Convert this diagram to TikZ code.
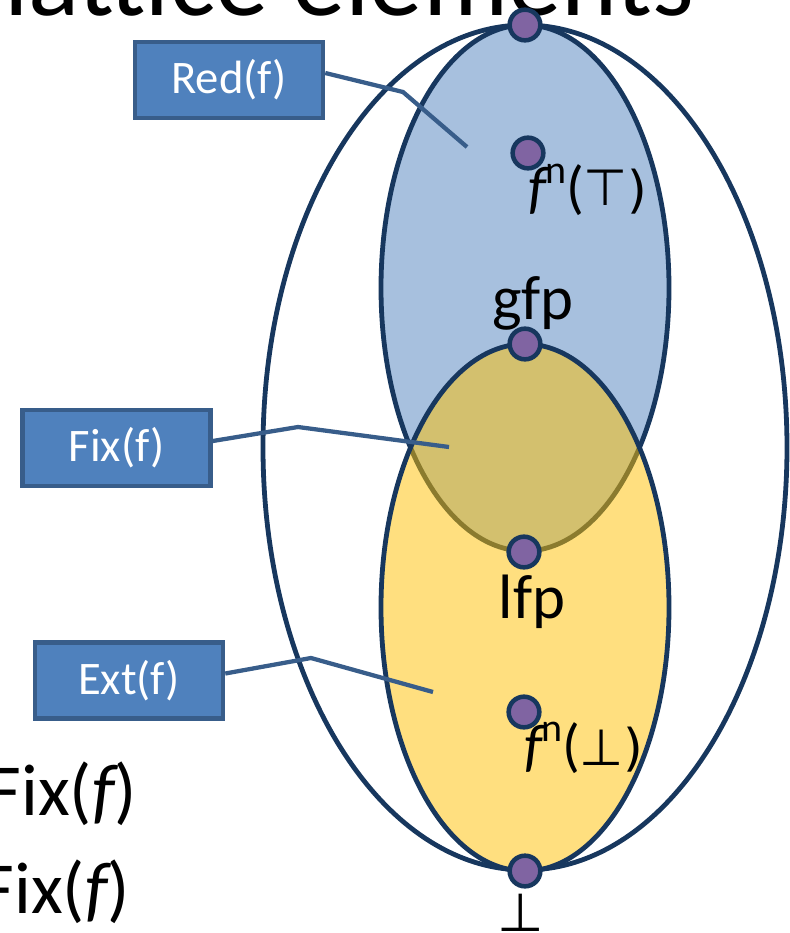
\documentclass[tikz,border=0pt]{standalone}
\usepackage{fontspec}
\setmainfont{Carlito}
\usetikzlibrary{calc}
\definecolor{navy}{HTML}{17375E}
\definecolor{dotfill}{HTML}{8064A2}
\definecolor{boxfill}{HTML}{4F81BD}
\definecolor{boxline}{HTML}{385D8A}
\definecolor{bluefill}{HTML}{4F81BD}
\definecolor{yellowfill}{HTML}{FFC000}
\tikzset{
  outline/.style={draw=navy, line width=3.6pt},
  labelbox/.style={draw=boxline, fill=boxfill, line width=3.4pt, text=white,
    minimum width=141pt, minimum height=57pt, inner sep=0pt,
    font=\fontsize{35}{40}\selectfont},
  conn/.style={draw=boxline, line width=3.2pt},
  pt/.style={circle, draw=navy, fill=dotfill, line width=3.4pt, minimum size=23pt, inner sep=0pt},
  lbl/.style={inner sep=0pt, anchor=base, font=\fontsize{47}{50}\selectfont},
  flbl/.style={inner sep=0pt, anchor=base west, font=\fontsize{44}{48}\selectfont},
}
\newcommand{\fnsup}{{\itshape f}\kern-0.02em\raisebox{0.40em}{\fontsize{30}{32}\selectfont n}}
\begin{document}
\begin{tikzpicture}[x=0.75pt,y=-0.75pt]
\useasboundingbox (0,0) rectangle (790,933);
% title (cut off at top)
\node[inner sep=0pt, anchor=base west, font=\fontsize{80}{90}\selectfont] (title) at (4,15) {lattice elements};
% ellipses
\draw[outline] (525,447.5) ellipse [x radius=262, y radius=422.5];
\path[fill=bluefill, fill opacity=0.5] (525,288) ellipse [x radius=144, y radius=263];
\draw[outline] (525,288) ellipse [x radius=144, y radius=263];
\path[fill=yellowfill, fill opacity=0.5] (525,607.5) ellipse [x radius=144, y radius=263.5];
\draw[outline] (525,607.5) ellipse [x radius=144, y radius=263.5];
% boxes
\node[labelbox] (red) at (229,80) {Red(f)};
\node[labelbox] (fix) at (116.5,448) {Fix(f)};
\node[labelbox] (ext) at (129,680.5) {Ext(f)};
% connector ends
\coordinate (redbend) at (403,92);
\coordinate (redend) at (467,147);
\coordinate (fixbend) at (298,427);
\coordinate (fixend) at (449,447);
\coordinate (extbend) at (311,658);
\coordinate (extend) at (433,692);
\draw[conn] ($(red.east)+(0,-7)$) -- (redbend) -- (redend);
\draw[conn] ($(fix.east)+(0,-7)$) -- (fixbend) -- (fixend);
\draw[conn] ($(ext.east)+(0,-7)$) -- (extbend) -- (extend);
% points
\node[pt] (top) at (525,25) {};
\node[pt] (fntop) at (528,153) {};
\node[pt] (gfp) at (525,344) {};
\node[pt] (lfp) at (524,552) {};
\node[pt] (fnbot) at (524,712) {};
\node[pt] (bot) at (525,871) {};
% labels
\node[lbl] (gfplbl) at (533,319) {gfp};
\node[lbl] (lfplbl) at (532,618) {lfp};
\node[flbl] (fntoplbl) at (528,207) {\fnsup(\fontspec{DejaVu Sans}\fontsize{38}{40}\selectfont\raisebox{0.02em}{⊤})};
\node[flbl] (fnbotlbl) at (524,765) {\fnsup(\fontspec{DejaVu Sans}\fontsize{38}{40}\selectfont ⊥)};
\node[inner sep=0pt, anchor=base, font=\fontsize{40}{44}\selectfont] (botlbl) at (521,931) {\fontspec{DejaVu Sans}⊥};
% bottom-left text (cut off)
\node[inner sep=0pt, anchor=base east, font=\fontsize{55}{60}\selectfont] (fixa) at (137,815) {Fix({\itshape f})};
\node[inner sep=0pt, anchor=base east, font=\fontsize{55}{60}\selectfont] (fixb) at (130,913) {Fix({\itshape f})};
\end{tikzpicture}
\end{document}
